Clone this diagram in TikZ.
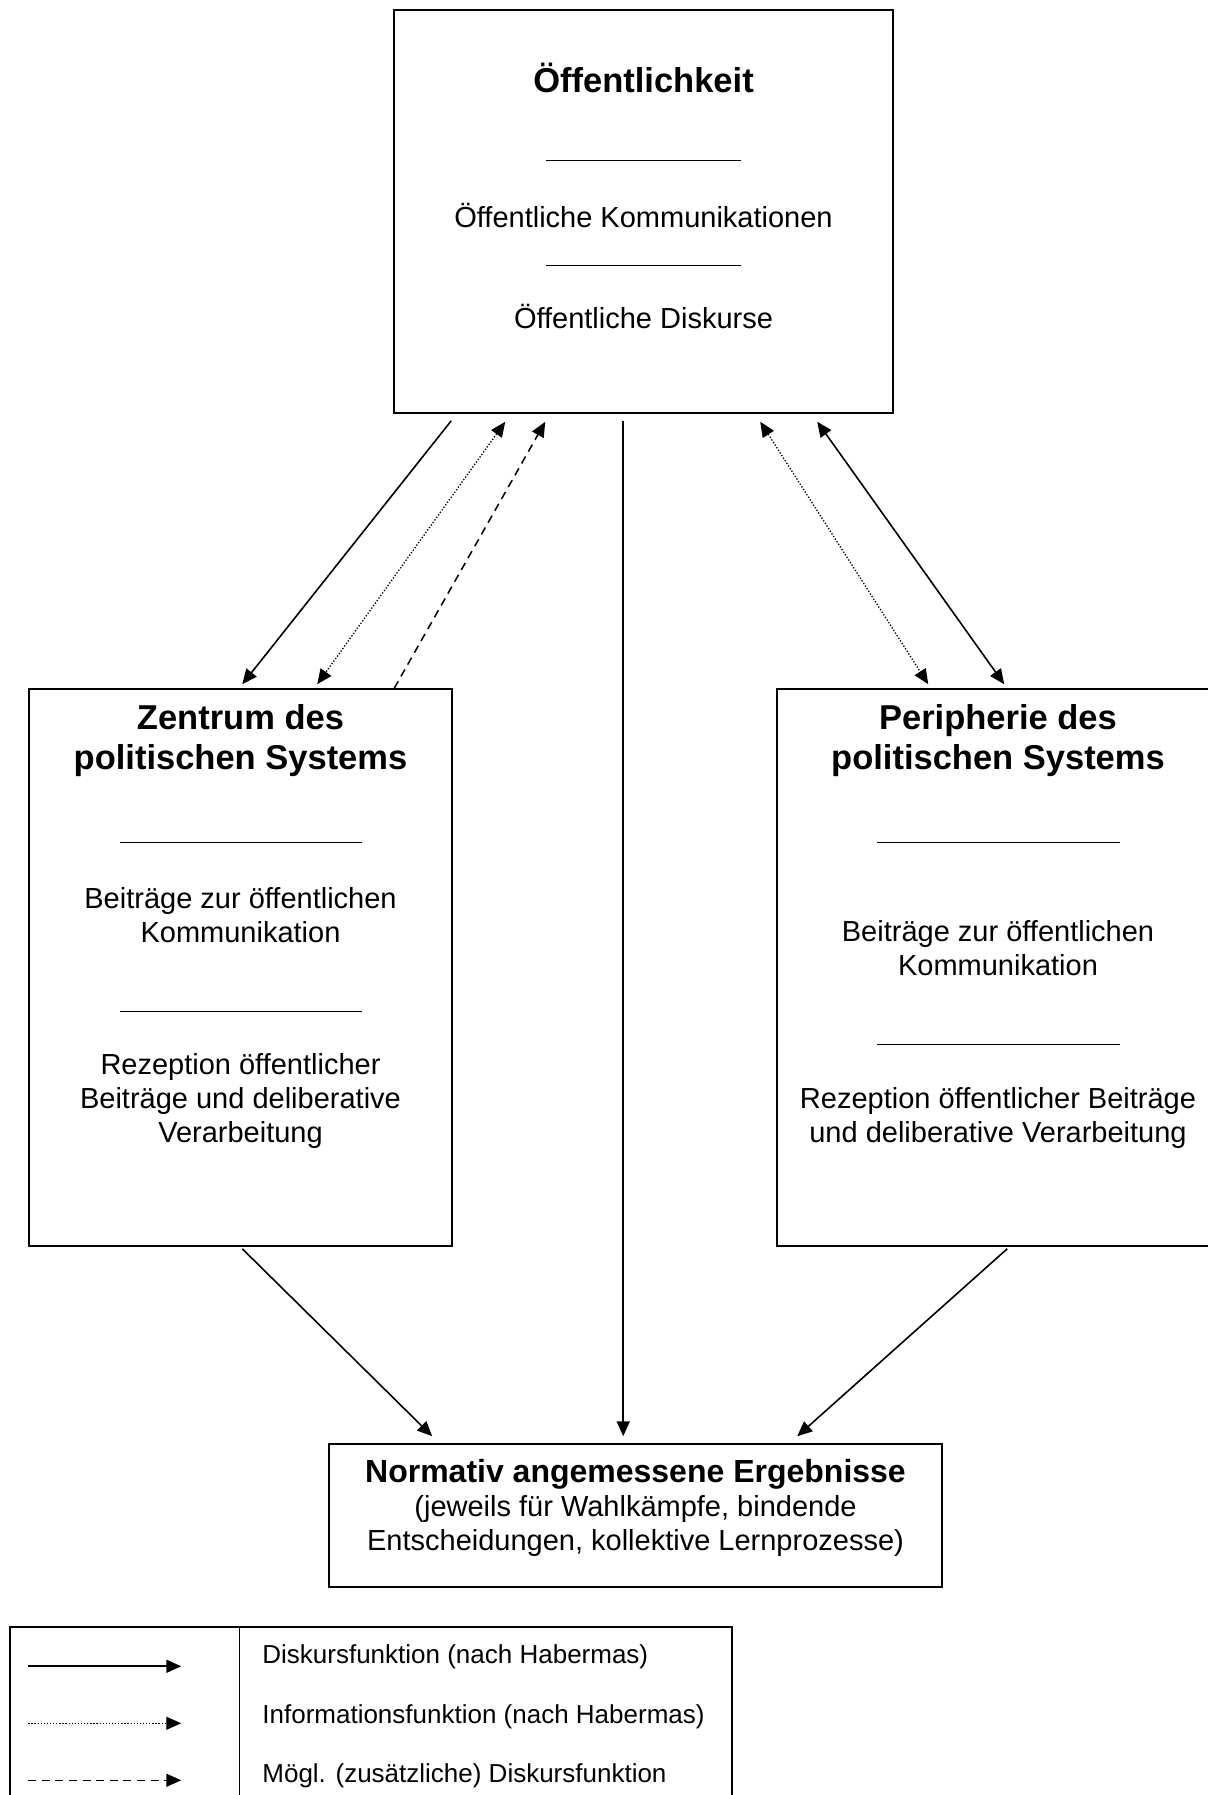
\documentclass[tikz,border=0pt]{standalone}
\usepackage{fontspec}
\setmainfont{Liberation Sans}
\usetikzlibrary{positioning,calc,fit}
\usetikzlibrary{arrows.meta}

\tikzset{
	box/.style={draw,line width=0.75pt,inner sep=0pt},
	txt/.style={font=\fontsize{14.5}{17}\selectfont,align=center,inner sep=0pt},
	titel/.style={font=\fontsize{17.25}{20}\selectfont\bfseries,align=center,inner sep=0pt},
	legtxt/.style={font=\fontsize{13}{15}\selectfont,anchor=west,inner sep=0pt},
	strich/.style={line width=0.5pt},
	tip/.style={arrows={-Triangle[length=7.5pt,width=6.5pt]}},
	dbl/.style={arrows={Triangle[length=7.5pt,width=6.5pt]-Triangle[length=7.5pt,width=6.5pt]}},
	disk/.style={line width=0.8pt,tip},
	info/.style={line width=0.65pt,dash pattern=on 0.65pt off 0.9pt,tip},
	moegl/.style={line width=0.75pt,dash pattern=on 4pt off 2.8pt,tip}
}

\begin{document}
\begin{tikzpicture}[x=0.5pt,y=-0.5pt]
	\clip (0,0) rectangle (1208,1795);
	% Kaesten
	\node[box,fit={(394,10) (893,413)}] (oeff) {};
	\node[box,fit={(29,689) (452,1246)}] (zent) {};
	\node[box,fit={(777,689) (1219,1246)}] (peri) {};
	\node[box,fit={(329,1444) (942,1587)}] (erg) {};
	\node[box,fit={(10,1627) (732,1830)}] (leg) {};

	% Oeffentlichkeit
	\node[titel] (oeffT) at (643.5,78) {Öffentlichkeit};
	\draw[strich] (546,160) -- (741,160);
	\node[txt] (oeffK) at (643.5,215) {Öffentliche Kommunikationen};
	\draw[strich] (546,265) -- (741,265);
	\node[txt] (oeffD) at (643.5,316) {Öffentliche Diskurse};

	% Zentrum
	\node[titel] (zentT) at (240.5,741) {Zentrum des\\politischen Systems};
	\draw[strich] (120,842) -- (362,842);
	\node[txt] (zentB) at (240.5,915) {Beiträge zur öffentlichen\\Kommunikation};
	\draw[strich] (120,1011) -- (362,1011);
	\node[txt] (zentR) at (240.5,1101) {Rezeption öffentlicher\\Beiträge und deliberative\\Verarbeitung};

	% Peripherie
	\node[titel] (periT) at (998,741) {Peripherie des\\politischen Systems};
	\draw[strich] (877,842) -- (1120,842);
	\node[txt] (periB) at (998,948) {Beiträge zur öffentlichen\\Kommunikation};
	\draw[strich] (877,1044) -- (1120,1044);
	\node[txt] (periR) at (998,1118) {Rezeption öffentlicher Beiträge\\und deliberative Verarbeitung};

	% Ergebnisse
	\node[titel,font=\fontsize{16}{20}\selectfont\bfseries] (ergT) at (635.5,1474) {Normativ angemessene Ergebnisse};
	\node[txt] (ergU) at (635.5,1526) {(jeweils für Wahlkämpfe, bindende\\Entscheidungen, kollektive Lernprozesse)};

	% Pfeile
	\draw[disk] ($(oeff.south west)+(58,7)$) -- ($(zent.north west)+(214,-4)$);
	\draw[info,dbl] ($(oeff.south west)+(112,8)$) -- ($(zent.north west)+(289,-4)$);
	\draw[moegl] ($(zent.north west)+(366,0)$) -- ($(oeff.south west)+(152,8)$);
	\draw[disk] ($(oeff.south west)+(230,7)$) -- ($(erg.north west)+(295,-7)$);
	\draw[info,dbl] ($(oeff.south west)+(367,8)$) -- ($(peri.north west)+(152,-4)$);
	\draw[disk,dbl] ($(oeff.south west)+(424,8)$) -- ($(peri.north west)+(228,-4)$);
	\draw[disk] ($(zent.south west)+(214,2)$) -- ($(erg.north west)+(104,-7)$);
	\draw[disk] ($(peri.south west)+(231,2)$) -- ($(erg.north west)+(469,-7)$);

	% Legende
	\draw[line width=0.75pt] ($(leg.north west)+(230,0)$) -- ($(leg.south west)+(230,0)$);
	\draw[disk] ($(leg.north west)+(19,40)$) -- ++(153,0);
	\draw[info] ($(leg.north west)+(19,97)$) -- ++(153,0);
	\draw[moegl] ($(leg.north west)+(19,154)$) -- ++(153,0);
	\node[legtxt] (legD) at (262,1657) {Diskursfunktion (nach Habermas)};
	\node[legtxt] (legI) at (262,1717) {Informationsfunktion (nach Habermas)};
	\node[legtxt] (legM) at (262,1776) {Mögl. (zusätzliche) Diskursfunktion};
\end{tikzpicture}
\end{document}
